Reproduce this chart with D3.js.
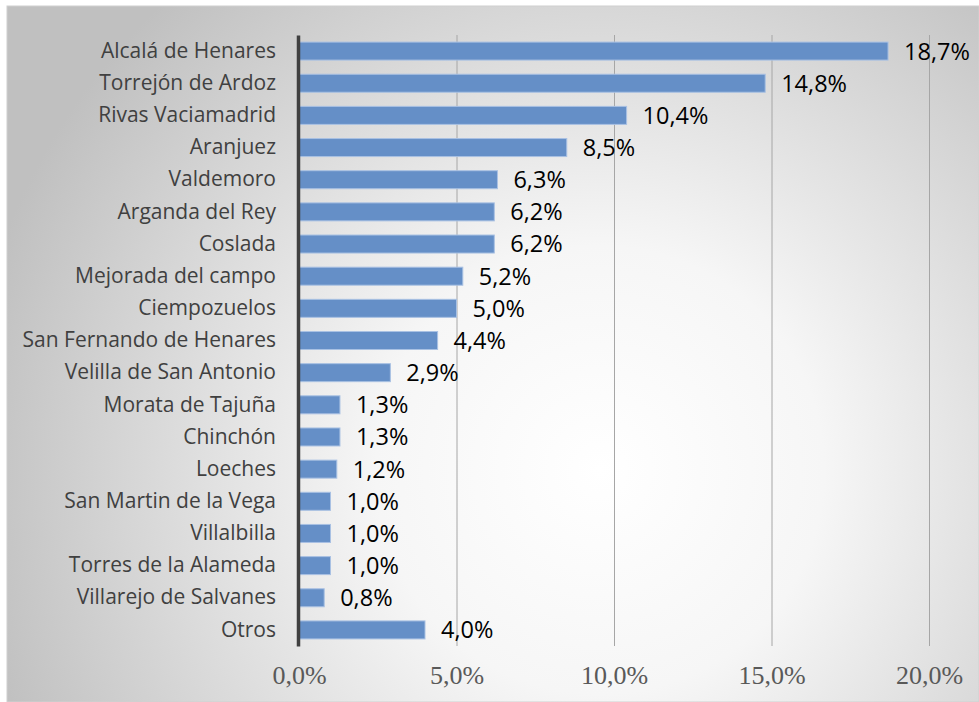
<!DOCTYPE html>
<html><head><meta charset="utf-8">
<script src="https://cdn.jsdelivr.net/npm/d3@7"></script>
<style>body{margin:0;background:#fff;}svg{display:block;}</style>
</head><body>
<script>
const categories = ["Alcalá de Henares","Torrejón de Ardoz","Rivas Vaciamadrid","Aranjuez","Valdemoro","Arganda del Rey","Coslada","Mejorada del campo","Ciempozuelos","San Fernando de Henares","Velilla de San Antonio","Morata de Tajuña","Chinchón","Loeches","San Martin de la Vega","Villalbilla","Torres de la Alameda","Villarejo de Salvanes","Otros"];
const values = [18.7,14.8,10.4,8.5,6.3,6.2,6.2,5.2,5.0,4.4,2.9,1.3,1.3,1.2,1.0,1.0,1.0,0.8,4.0];
const ticks = [0,5,10,15,20];

const W=979,H=702;
const svg=d3.select("body").append("svg").attr("width",W).attr("height",H);
const defs=svg.append("defs");
const rg=defs.append("radialGradient").attr("id","bg").attr("gradientUnits","userSpaceOnUse")
  .attr("cx",600).attr("cy",470).attr("r",640);
rg.append("stop").attr("offset","0").attr("stop-color","#ffffff");
rg.append("stop").attr("offset","0.35").attr("stop-color","#f6f6f6");
rg.append("stop").attr("offset","1").attr("stop-color","#c0c0c0");
svg.append("rect").attr("x",7).attr("y",6).attr("width",W-7).attr("height",H-6)
  .attr("fill","url(#bg)").attr("stroke","#d0d0d0").attr("stroke-width",1);

const x=d3.scaleLinear().domain([0,20]).range([299,929]);
const y=d3.scaleBand().domain(categories).range([35,646]).paddingInner(0.44).paddingOuter(0.22);

// gridlines
svg.append("g").selectAll("line").data(ticks.slice(1)).join("line")
  .attr("x1",d=>x(d)+0.5).attr("x2",d=>x(d)+0.5).attr("y1",35).attr("y2",646)
  .attr("stroke","#a6a6a6").attr("stroke-width",1);

// bars
svg.append("g").selectAll("rect").data(values).join("rect")
  .attr("x",x(0)).attr("y",(d,i)=>y(categories[i]))
  .attr("width",d=>x(d)-x(0)).attr("height",y.bandwidth())
  .attr("fill","#658fc7").attr("stroke","#a9c1e3").attr("stroke-width",1);

// value labels
svg.append("g").selectAll("text").data(values).join("text")
  .attr("x",d=>x(d)+16).attr("y",(d,i)=>y(categories[i])+y.bandwidth()/2)
  .attr("dy","0.36em").attr("font-family","'Open Sans', sans-serif").attr("font-size",23.5)
  .attr("fill","#000").text(d=>d.toFixed(1).replace(".",",")+"%");

// y axis
const ya=svg.append("g").attr("transform",`translate(${x(0)-1},0)`).call(d3.axisLeft(y).tickSize(0).tickPadding(22));
ya.select(".domain").attr("stroke","#404040").attr("stroke-width",3.5);
ya.selectAll("text").attr("font-family","'Open Sans', sans-serif").attr("font-size",21).attr("fill","#404040");

// x axis
const xa=svg.append("g").attr("transform","translate(0,646)").call(d3.axisBottom(x).tickValues(ticks).tickSize(0).tickPadding(20).tickFormat(d=>d.toFixed(1).replace(".",",")+"%"));
xa.select(".domain").remove();
xa.selectAll("text").attr("font-family","'Liberation Serif', serif").attr("font-size",26).attr("fill","#595959");
</script>
</body></html>
